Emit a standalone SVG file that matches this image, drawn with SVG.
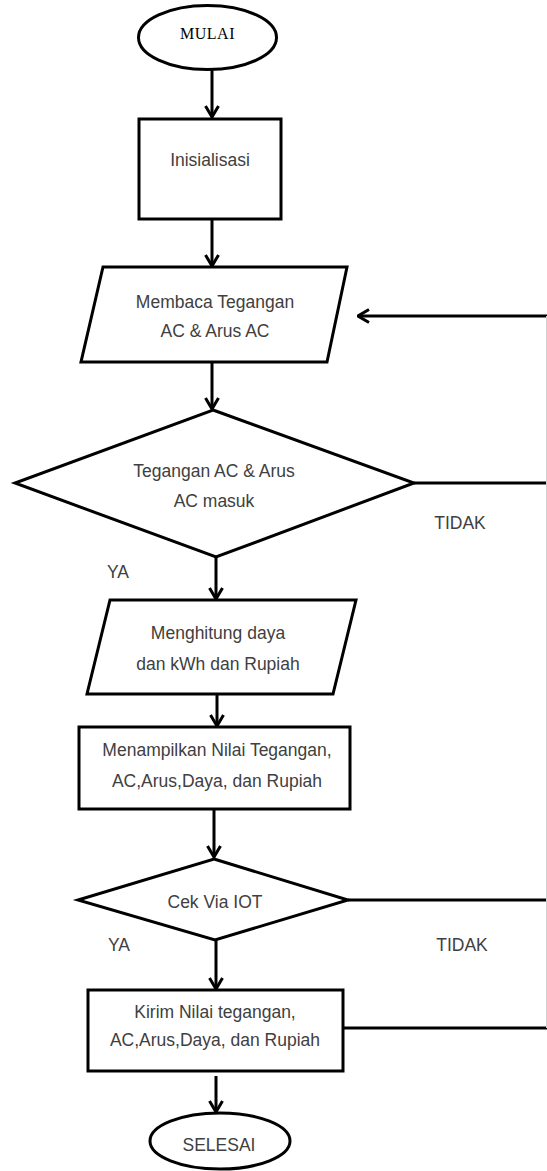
<svg xmlns="http://www.w3.org/2000/svg" width="547" height="1171" viewBox="0 0 547 1171">
<defs>
<style>
.shape{fill:#fff;stroke:#000;stroke-width:3;stroke-linejoin:miter}
.conn{fill:none;stroke:#000;stroke-width:3}
.lbl{font-family:"Liberation Sans",Arial,sans-serif;font-size:17.5px;fill:#404040;text-anchor:middle}
.serif{font-family:"Liberation Serif","Times New Roman",serif;font-size:16px;letter-spacing:0.5px;fill:#000;text-anchor:middle}
</style>
<marker id="arr" viewBox="0 0 14 16" refX="12.5" refY="8" markerWidth="14" markerHeight="16" markerUnits="userSpaceOnUse" orient="auto">
<path d="M1.5,1.5 L12.5,8 L1.5,14.5" fill="none" stroke="#000" stroke-width="3"/>
</marker>
</defs>
<rect width="547" height="1171" fill="#fff"/>
<g id="connectors">
<line class="conn" x1="212" y1="70" x2="212" y2="117" marker-end="url(#arr)"/>
<line class="conn" x1="212" y1="219" x2="212" y2="266" marker-end="url(#arr)"/>
<line class="conn" x1="212" y1="362" x2="212" y2="409" marker-end="url(#arr)"/>
<line class="conn" x1="216" y1="557" x2="216" y2="599" marker-end="url(#arr)"/>
<line class="conn" x1="217" y1="694" x2="217" y2="726" marker-end="url(#arr)"/>
<line class="conn" x1="214" y1="809" x2="214" y2="857" marker-end="url(#arr)"/>
<line class="conn" x1="216" y1="940" x2="216" y2="989" marker-end="url(#arr)"/>
<line class="conn" x1="216" y1="1076" x2="216" y2="1112" marker-end="url(#arr)"/>
<line class="conn" x1="414" y1="483" x2="547" y2="483"/>
<line class="conn" x1="348" y1="900" x2="547" y2="900"/>
<line class="conn" x1="343" y1="1028" x2="547" y2="1028"/>
<line class="conn" x1="547" y1="316" x2="358" y2="316" marker-end="url(#arr)"/>
<line x1="546.5" y1="316" x2="546.5" y2="1028" stroke="#d0d0d0" stroke-width="1"/>
<text class="lbl" x="460" y="529">TIDAK</text>
<text class="lbl" x="118" y="578">YA</text>
<text class="lbl" x="119" y="951">YA</text>
<text class="lbl" x="462" y="951">TIDAK</text>
</g>
<g id="mulai">
<ellipse class="shape" cx="207.5" cy="37.5" rx="69" ry="32"/>
<text class="serif" x="207.5" y="39">MULAI</text>
</g>
<g id="inisialisasi">
<rect class="shape" x="139" y="119" width="142" height="100"/>
<text class="lbl" x="210" y="166">Inisialisasi</text>
</g>
<g id="membaca">
<polygon class="shape" points="103,267 347,267 327,362 81,362"/>
<text class="lbl" x="215" y="308">Membaca Tegangan</text>
<text class="lbl" x="215" y="337">AC &amp; Arus AC</text>
</g>
<g id="cek-masuk">
<polygon class="shape" points="213,410 414,483 216,557 15,483"/>
<text class="lbl" x="214" y="477">Tegangan AC &amp; Arus</text>
<text class="lbl" x="214" y="507">AC masuk</text>
</g>
<g id="menghitung">
<polygon class="shape" points="110,600 356,600 333,694 87,694"/>
<text class="lbl" x="218" y="639">Menghitung daya</text>
<text class="lbl" x="218" y="670">dan kWh dan Rupiah</text>
</g>
<g id="menampilkan">
<rect class="shape" x="79" y="727" width="271" height="82"/>
<text class="lbl" x="217" y="756">Menampilkan Nilai Tegangan,</text>
<text class="lbl" x="217" y="787">AC,Arus,Daya, dan Rupiah</text>
</g>
<g id="cek-iot">
<polygon class="shape" points="214,859 348,900 215,940 78,900"/>
<text class="lbl" x="215" y="908">Cek Via IOT</text>
</g>
<g id="kirim">
<rect class="shape" x="88" y="990" width="255" height="81"/>
<text class="lbl" x="215" y="1018">Kirim Nilai tegangan,</text>
<text class="lbl" x="215" y="1046">AC,Arus,Daya, dan Rupiah</text>
</g>
<g id="selesai">
<ellipse class="shape" cx="220" cy="1141" rx="70" ry="28"/>
<text class="lbl" x="219" y="1151">SELESAI</text>
</g>
</svg>
